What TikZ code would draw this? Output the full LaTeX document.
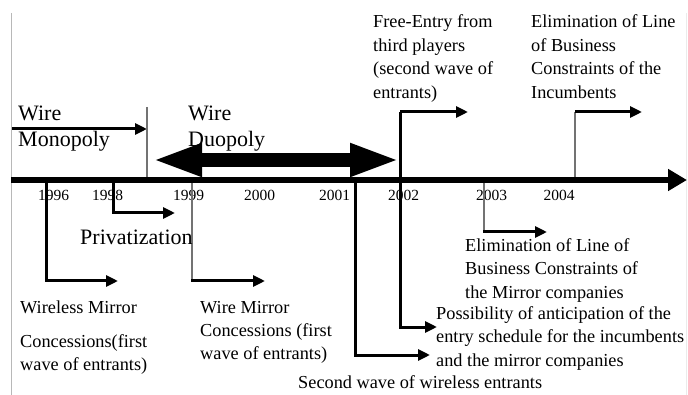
\documentclass[tikz,border=0pt]{standalone}
\usepackage{fontspec}
\setmainfont{Liberation Serif}
\usetikzlibrary{arrows.meta}

\newcommand{\txtblock}[1]{\begin{tabular}[t]{@{}l@{}}#1\end{tabular}}

\tikzset{
  lbl/.style={inner sep=0pt, anchor=base west, font=\fontsize{18.3}{23.5}\selectfont},
  biglbl/.style={inner sep=0pt, anchor=base west, font=\fontsize{22}{26}\selectfont},
  yearlbl/.style={inner sep=0pt, anchor=base, font=\fontsize{15.5}{18}\selectfont},
  conn/.style={line width=3pt, -{Triangle[length=12pt,width=11pt]}},
  plain/.style={line width=3pt},
  tick/.style={line width=1.3pt, draw=black!55},
  frameline/.style={line width=1pt}
}

\begin{document}
\begin{tikzpicture}[x=1pt, y=-1pt, line cap=butt]
\useasboundingbox (0,0) rectangle (688,395);

% page edges
\coordinate (fl1) at (11.5,13);  \coordinate (fl2) at (11.5,395);
\coordinate (fr1) at (686,13);   \coordinate (fr2) at (686,395);
\draw[frameline, draw=black!28] (fl1) -- (fl2);
\draw[frameline, draw=black!8] (fr1) -- (fr2);

% time axis
\coordinate (axL) at (11,180);
\coordinate (axR) at (687,180);
\draw[line width=5.5pt, -{Triangle[length=19pt,width=21pt]}] (axL) -- (axR);

% years
\node[yearlbl] (y96) at (53.5,201) {1996};
\node[yearlbl] (y98) at (107.5,201) {1998};
\node[yearlbl] (y99) at (188.5,201) {1999};
\node[yearlbl] (y00) at (259.5,201) {2000};
\node[yearlbl] (y01) at (334.5,201) {2001};
\node[yearlbl] (y02) at (403.5,201) {2002};
\node[yearlbl] (y03) at (491.5,201) {2003};
\node[yearlbl] (y04) at (559,201) {2004};

% monopoly period
\coordinate (monoL) at (12,129);
\coordinate (monoR) at (147,129);
\draw[conn] (monoL) -- (monoR);
\coordinate (divT) at (147,107);
\coordinate (divB) at (147,177);
\draw[tick] (divT) -- (divB);
\node[biglbl] (wire1) at (18,120.5) {Wire};
\node[biglbl] (mono) at (18,146.5) {Monopoly};

% duopoly period
\node[biglbl] (wire2) at (188,120.5) {Wire};
\node[biglbl] (duo) at (188,146.5) {Duopoly};
\coordinate (duoL) at (152,160);
\coordinate (duoR) at (400,160);
\draw[line width=14pt, {Triangle[length=50pt,width=30pt]}-{Triangle[length=50pt,width=30pt]}] (duoL) -- (duoR);

% events above the axis
\coordinate (a02) at (400,112);
\coordinate (a02e) at (468,112);
\draw[conn] (a02) -- (a02e);
\coordinate (a04) at (575,177);
\coordinate (a04k) at (575,112);
\coordinate (a04e) at (642,112);
\draw[tick] (a04) -- (a04k);
\draw[conn] (a04k) -- (a04e);

\node[lbl] (freeentry) at (373,28) {\txtblock{Free-Entry from\\third players\\(second wave of\\entrants)}};
\node[lbl] (elimtop) at (531,28) {\txtblock{Elimination of Line\\of Business\\Constraints of the\\Incumbents}};

% events below the axis
\coordinate (b96) at (46,182);
\coordinate (b96e) at (118,281);
\draw[conn] (b96) |- (b96e);

\coordinate (b98) at (113,182);
\coordinate (b98e) at (175,213);
\draw[conn] (b98) |- (b98e);

\coordinate (b99) at (192,183);
\coordinate (b99k) at (192,281);
\coordinate (b99e) at (265,281);
\draw[tick] (b99) -- (b99k);
\draw[conn] ([xshift=-0.65pt]b99k) -- (b99e);

\coordinate (b01) at (355,182);
\coordinate (b01e) at (430,355);
\draw[conn] (b01) |- (b01e);

\coordinate (b02) at (400,112);
\coordinate (b02e) at (437,327);
\draw[conn] (b02) |- (b02e);

\coordinate (b03) at (484,183);
\coordinate (b03k) at (484,232);
\coordinate (b03e) at (547,232);
\draw[tick] (b03) -- (b03k);
\draw[conn] ([xshift=-0.65pt]b03k) -- (b03e);

\node[biglbl] (priv) at (80,245) {Privatization};
\node[lbl] (wless1) at (20,313) {Wireless Mirror};
\node[lbl] (wless2) at (20,347) {\txtblock{Concessions(first\\wave of entrants)}};
\node[lbl] (wmirror) at (200,313) {\txtblock{Wire Mirror\\Concessions (first\\wave of entrants)}};
\node[lbl] (elimlow) at (465,251.5) {\txtblock{Elimination of Line of\\Business Constraints of\\the Mirror companies}};
\node[lbl] (antic) at (436,319.5) {\txtblock{Possibility of anticipation of the\\entry schedule for the incumbents\\and the mirror companies}};
\node[lbl] (second) at (298,388.5) {Second wave of wireless entrants};

\end{tikzpicture}
\end{document}
